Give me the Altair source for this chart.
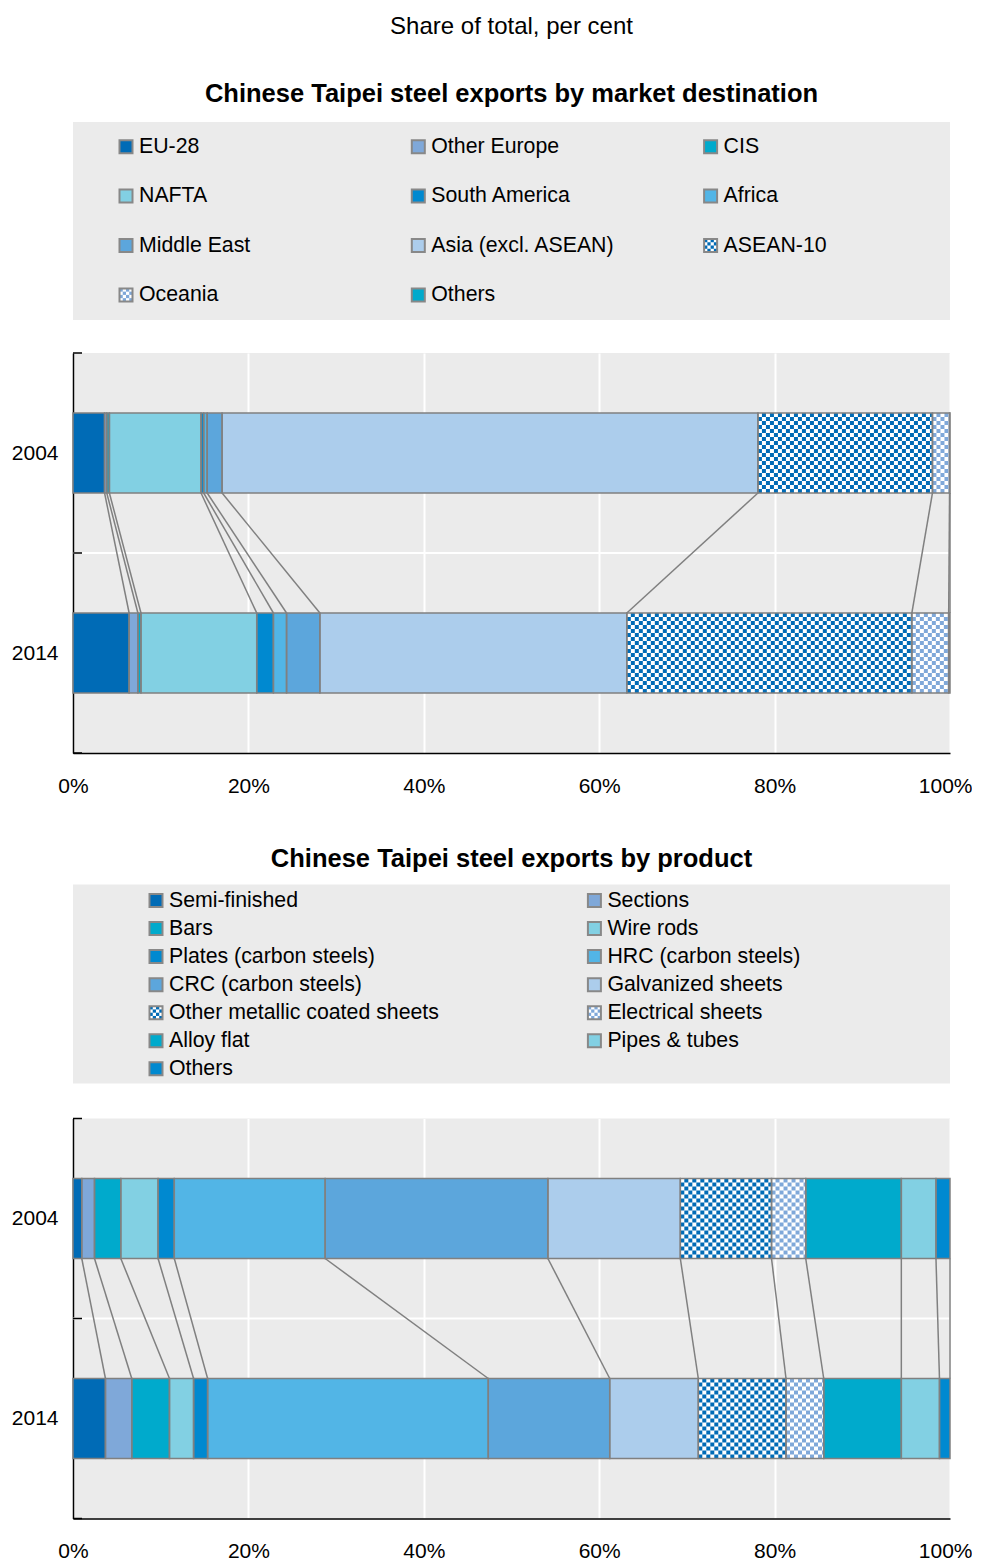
import altair as alt
import pandas as pd
import numpy as np

FONT = "Liberation Sans, Arial, sans-serif"
GRAY_BG = "#ebebeb"
EDGE = "#808080"

years = ["2004", "2014"]

# ---- Chart 1: market destination ----
dest_categories = ["EU-28", "Other Europe", "CIS", "NAFTA", "South America", "Africa",
                   "Middle East", "Asia (excl. ASEAN)", "ASEAN-10", "Oceania", "Others"]
dest_2004 = [3.6, 0.25, 0.3, 10.45, 0.3, 0.4, 1.7, 61.1, 19.9, 1.95, 0.05]
dest_2014 = [6.4, 1.0, 0.35, 13.2, 1.9, 1.5, 3.8, 35.0, 32.5, 4.2, 0.15]
dest_colors = ["#006bb6", "#7fa8d9", "#00aacc", "#82d0e3", "#0089d0", "#52b5e6",
               "#5ca6dc", "#accdec", "#006bb6", "#7fa8d9", "#00aacc"]
dest_pattern = [False, False, False, False, False, False, False, False, True, True, False]

# ---- Chart 2: product ----
prod_categories = ["Semi-finished", "Sections", "Bars", "Wire rods", "Plates (carbon steels)",
                   "HRC (carbon steels)", "CRC (carbon steels)", "Galvanized sheets",
                   "Other metallic coated sheets", "Electrical sheets", "Alloy flat",
                   "Pipes & tubes", "Others"]
prod_2004 = [1.0, 1.45, 3.0, 4.25, 1.85, 17.2, 25.4, 15.1, 10.4, 3.9, 10.9, 3.95, 1.6]
prod_2014 = [3.7, 3.0, 4.3, 2.75, 1.6, 32.0, 13.85, 10.1, 10.0, 4.3, 8.85, 4.35, 1.2]
prod_colors = ["#006bb6", "#7fa8d9", "#00aacc", "#82d0e3", "#0089d0", "#52b5e6",
               "#5ca6dc", "#accdec", "#006bb6", "#7fa8d9", "#00aacc", "#82d0e3", "#0089d0"]
prod_pattern = [False, False, False, False, False, False, False, False, True, True, False, False, False]

PLOT_W = 877
PLOT_H = 400
CELL_PX = 4.0
ROWS = 20


def segments(cats, v04, v14, colors, pattern):
    rows = []
    for year, vals, yc in (("2004", v04, 1.5), ("2014", v14, 0.5)):
        start = 0.0
        for c, v, col, pat in zip(cats, vals, colors, pattern):
            rows.append(dict(cat=c, year=year, x0=start, x1=start + v,
                             y0=yc - 0.2, y1=yc + 0.2,
                             fill="#ffffff" if pat else col, ink=col, pat=pat))
            start += v
    return pd.DataFrame(rows)


def checker(seg):
    cw = 100.0 * CELL_PX / PLOT_W
    out = []
    for _, s in seg[seg["pat"]].iterrows():
        ncol = int(np.ceil((s.x1 - s.x0) / cw - 1e-9))
        rh = (s.y1 - s.y0) / ROWS
        for i in range(ncol):
            for j in range(ROWS):
                if (i + j) % 2 == 0:
                    out.append(dict(x0=s.x0 + i * cw, x1=min(s.x0 + (i + 1) * cw, s.x1),
                                    y0=s.y0 + j * rh, y1=s.y0 + (j + 1) * rh, ink=s.ink))
    return pd.DataFrame(out)


def links(seg):
    a = seg[seg.year == "2004"].reset_index(drop=True)
    b = seg[seg.year == "2014"].reset_index(drop=True)
    return pd.DataFrame(dict(xa=a.x1, xb=b.x1, ya=a.y0, yb=b.y1))


def make_plot(cats, v04, v14, colors, pattern):
    seg = segments(cats, v04, v14, colors, pattern)
    cells = checker(seg)
    lk = links(seg)
    xs = alt.Scale(domain=[0, 100], nice=False, zero=False)
    ys = alt.Scale(domain=[0, 2], nice=False, zero=False)
    xax = alt.Axis(values=[0, 20, 40, 60, 80, 100], labelExpr="datum.value + '%'",
                   grid=True, gridColor="white", gridWidth=2, ticks=False,
                   domainColor="black", domainWidth=1.5, labelFont=FONT,
                   labelFontSize=21, labelColor="black", labelPadding=22,
                   labelFlush=False, labelOverlap=False,
                   labelAlign={"condition": {"test": "datum.value == 100", "value": "right"},
                               "value": "center"},
                   labelOffset={"condition": {"test": "datum.value == 100", "value": 22},
                                "value": 0},
                   title=None)
    yax = alt.Axis(values=[0.5, 1.5], labelExpr="datum.value > 1 ? '2004' : '2014'",
                   grid=False, ticks=False, domainColor="black", domainWidth=1.5,
                   labelFont=FONT, labelFontSize=21, labelColor="black",
                   labelPadding=15, labelFlush=False, title=None)

    grid_df = pd.DataFrame(dict(y=[1.0], xa=[0.0], xb=[100.0]))
    hgrid = alt.Chart(grid_df).mark_rule(color="white", strokeWidth=2).encode(
        x=alt.X("xa:Q", scale=xs, axis=xax), x2="xb:Q",
        y=alt.Y("y:Q", scale=ys, axis=yax))

    bars = alt.Chart(seg).mark_rect(strokeWidth=0).encode(
        x=alt.X("x0:Q", scale=xs), x2="x1:Q",
        y=alt.Y("y0:Q", scale=ys), y2="y1:Q",
        fill=alt.Fill("fill:N", scale=None))
    cell_layer = alt.Chart(cells).mark_rect(strokeWidth=0).encode(
        x=alt.X("x0:Q", scale=xs), x2="x1:Q",
        y=alt.Y("y0:Q", scale=ys), y2="y1:Q",
        fill=alt.Fill("ink:N", scale=None))
    outline = alt.Chart(seg).mark_rect(fillOpacity=0, stroke=EDGE, strokeWidth=1.5).encode(
        x=alt.X("x0:Q", scale=xs), x2="x1:Q",
        y=alt.Y("y0:Q", scale=ys), y2="y1:Q")
    link_layer = alt.Chart(lk).mark_rule(color=EDGE, strokeWidth=1.5).encode(
        x=alt.X("xa:Q", scale=xs), x2="xb:Q",
        y=alt.Y("ya:Q", scale=ys), y2="yb:Q")
    tick_df = pd.DataFrame(dict(y=[0.0, 1.0, 2.0], xa=[0.0] * 3, xb=[100.0 * 9 / PLOT_W] * 3))
    yticks = alt.Chart(tick_df).mark_rule(color="black", strokeWidth=1.5).encode(
        x=alt.X("xa:Q", scale=xs), x2="xb:Q", y=alt.Y("y:Q", scale=ys))
    return alt.layer(hgrid, bars, cell_layer, outline, link_layer, yticks).properties(
        width=PLOT_W, height=PLOT_H)


def make_legend(cats, colors, pattern, ncols, x0, dx, y0, dy, height, title, toff):
    items = []
    cells = []
    side = 13.0
    n = 4
    cs = side / n
    for k, (c, col, pat) in enumerate(zip(cats, colors, pattern)):
        r, q = divmod(k, ncols)
        px = x0 + q * dx
        py = y0 + r * dy
        items.append(dict(cat=c, px=px, py=py, fill="#ffffff" if pat else col))
        if pat:
            for i in range(n):
                for j in range(n):
                    if (i + j) % 2 == 0:
                        cells.append(dict(px=px - side / 2 + cs * (i + 0.5),
                                          py=py - side / 2 + cs * (j + 0.5), ink=col))
    it = pd.DataFrame(items)
    cl = pd.DataFrame(cells)
    X = alt.X("px:Q", scale=None, axis=None)
    Y = alt.Y("py:Q", scale=None, axis=None)
    sym = alt.Chart(it).mark_square(size=side * side, opacity=1, strokeWidth=0).encode(
        x=X, y=Y, fill=alt.Fill("fill:N", scale=None))
    cel = alt.Chart(cl).mark_square(size=cs * cs, opacity=1, strokeWidth=0).encode(
        x=X, y=Y, fill=alt.Fill("ink:N", scale=None))
    out = alt.Chart(it).mark_square(size=side * side, opacity=1, fillOpacity=0,
                                    stroke="#888888", strokeWidth=2).encode(x=X, y=Y)
    txt = alt.Chart(it).mark_text(align="left", baseline="middle", font=FONT,
                                  fontSize=21.3, dx=13, color="black").encode(
        x=X, y=Y, text="cat:N")
    return alt.layer(sym, cel, out, txt).properties(
        width=PLOT_W, height=height,
        title=alt.TitleParams(title, font=FONT, fontSize=25.5, fontWeight="bold",
                              color="black", anchor="middle", offset=toff))


leg1 = make_legend(dest_categories, dest_colors, dest_pattern, 3, 53, 292.3, 24.7, 49.4, 198,
                   "Chinese Taipei steel exports by market destination", 15)
plot1 = make_plot(dest_categories, dest_2004, dest_2014, dest_colors, dest_pattern)
leg2 = make_legend(prod_categories, prod_colors, prod_pattern, 2, 83, 438.4, 16, 28.05, 199,
                   "Chinese Taipei steel exports by product", 12.5)
plot2 = make_plot(prod_categories, prod_2004, prod_2014, prod_colors, prod_pattern)

top = alt.vconcat(leg1, plot1, spacing=32)
bottom = alt.vconcat(leg2, plot2, spacing=34)

chart = alt.vconcat(top, bottom, spacing=50.5).properties(
    title=alt.TitleParams("Share of total, per cent", font=FONT, fontSize=24,
                          fontWeight="normal", color="black", anchor="middle",
                          frame="group", offset=43),
    padding={"left": 3, "top": 6, "right": 0, "bottom": 5},
).configure(background="white").configure_view(fill=GRAY_BG, strokeWidth=0)

chart.save("out.html", embed_options={"renderer": "svg", "actions": False})
